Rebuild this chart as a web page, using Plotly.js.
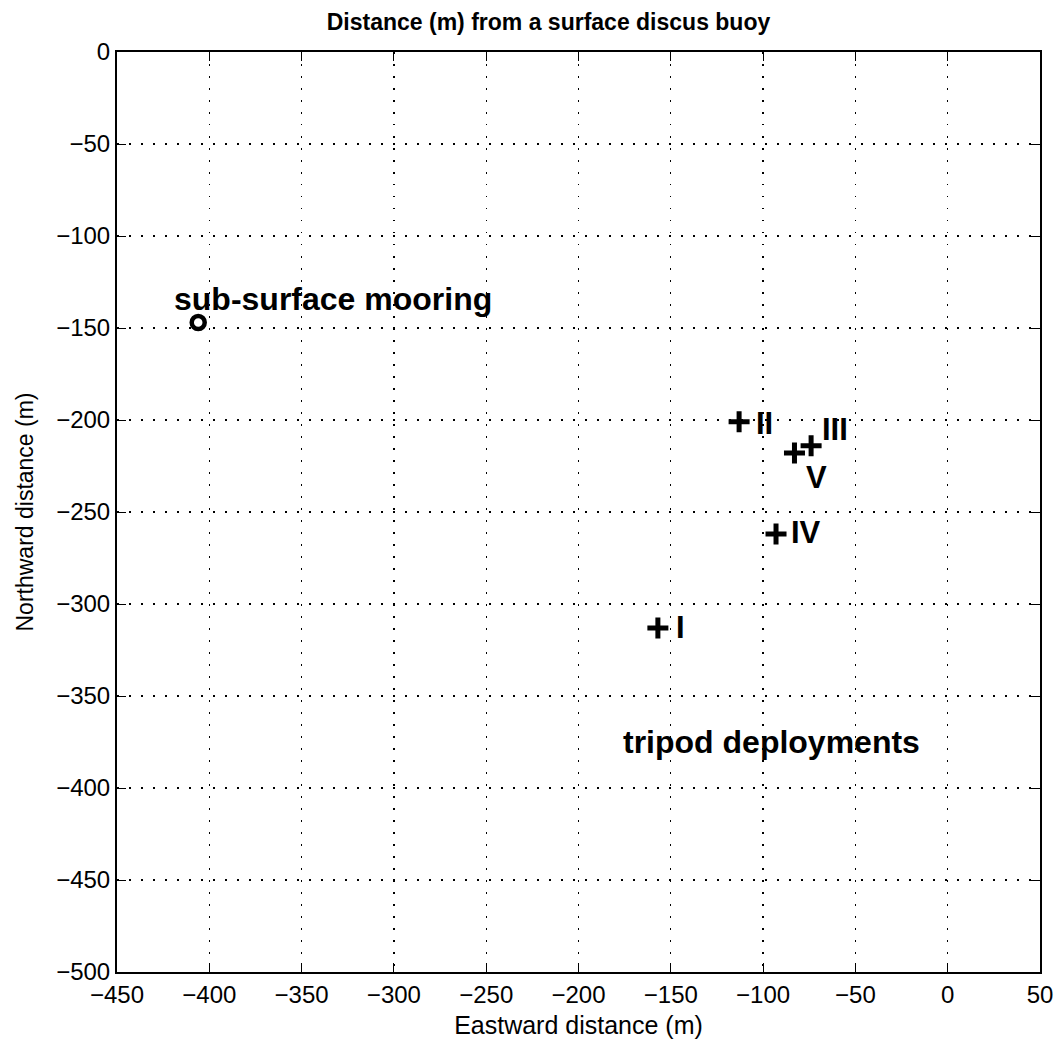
<!DOCTYPE html>
<html>
<head>
<meta charset="utf-8">
<script src="https://cdn.plot.ly/plotly-3.0.1.min.js"></script>
<style>html,body{margin:0;padding:0;background:#fff;}#chart{width:1063px;height:1047px;}</style>
</head>
<body>
<div id="chart"></div>
<script>
// Mooring position
const mooringX = [-406];
const mooringY = [-147];
const mooringLabel = "sub-surface mooring";

// Tripod deployments
const tripodNames = ["I", "II", "III", "IV", "V"];
const tripodX = [-157, -113, -74, -93, -83];
const tripodY = [-313, -201, -214, -262, -218];
const groupLabel = "tripod deployments";

// Label positions (text anchors)
const labelX = [-148, -105, -69, -86, -78];
const labelY = [-313, -202, -205, -261, -231];
const mooringLabelPos = [-420, -134];
const groupLabelPos = [-177, -375];

const xTicks = [-450, -400, -350, -300, -250, -200, -150, -100, -50, 0, 50];
const yTicks = [0, -50, -100, -150, -200, -250, -300, -350, -400, -450, -500];

const fontFam = "Liberation Sans, Arial, Helvetica, sans-serif";

const traces = [
  {
    x: mooringX, y: mooringY, mode: "markers", type: "scatter",
    marker: {symbol: "circle-open", size: 13, color: "#000", line: {width: 4.5, color: "#000"}},
    hoverinfo: "skip"
  },
  {
    x: tripodX, y: tripodY, mode: "markers", type: "scatter",
    marker: {symbol: "cross-thin-open", size: 15, color: "#000", line: {width: 5, color: "#000"}},
    hoverinfo: "skip"
  }
];

const annotations = tripodNames.map((n, i) => ({
  x: labelX[i], y: labelY[i], text: "<b>" + n + "</b>", showarrow: false,
  xanchor: "left", yanchor: "middle",
  font: {family: fontFam, size: 31, color: "#000"}
}));
annotations.push({
  x: mooringLabelPos[0], y: mooringLabelPos[1], text: "<b>" + mooringLabel + "</b>", showarrow: false,
  xanchor: "left", yanchor: "middle", font: {family: fontFam, size: 32, color: "#000"}
});
annotations.push({
  x: groupLabelPos[0], y: groupLabelPos[1], text: "<b>" + groupLabel + "</b>", showarrow: false,
  xanchor: "left", yanchor: "middle", font: {family: fontFam, size: 32, color: "#000"}
});

const axisCommon = {
  showgrid: true, gridcolor: "#000", gridwidth: 1.3, griddash: "1.5px,10.5px",
  zeroline: false, showline: true, linecolor: "#000", linewidth: 2, mirror: "ticks",
  ticks: "inside", ticklen: 9, tickcolor: "#000", tickwidth: 1,
  tickfont: {family: fontFam, size: 24, color: "#000"}
};

const layout = {
  width: 1063, height: 1047,
  margin: {l: 117, r: 23, t: 52, b: 75},
  paper_bgcolor: "#fff", plot_bgcolor: "#fff",
  showlegend: false,
  title: {text: "<b>Distance (m) from a surface discus buoy</b>", x: 0.516, xanchor: "center", y: 0.979, yanchor: "middle",
          font: {family: fontFam, size: 23, color: "#000"}},
  xaxis: Object.assign({}, axisCommon, {
    range: [-450, 50], tickvals: xTicks, ticktext: xTicks.map(v => v < 0 ? "\u2212" + Math.abs(v) : String(v)),
    title: {text: "Eastward distance (m)", font: {family: fontFam, size: 25, color: "#000"}, standoff: 10}
  }),
  yaxis: Object.assign({}, axisCommon, {
    range: [-500, 0], tickvals: yTicks, ticktext: yTicks.map(v => v < 0 ? "\u2212" + Math.abs(v) : String(v)),
    title: {text: "Northward distance (m)", font: {family: fontFam, size: 23, color: "#000"}, standoff: 16}
  }),
  annotations: annotations
};

Plotly.newPlot("chart", traces, layout, {staticPlot: true, displayModeBar: false});
</script>
</body>
</html>
